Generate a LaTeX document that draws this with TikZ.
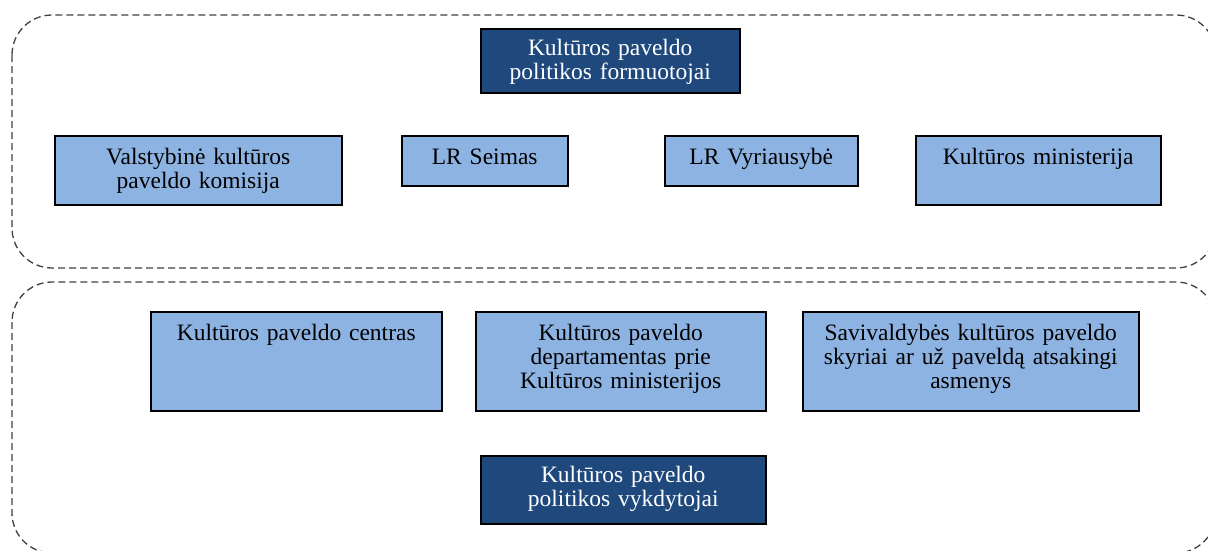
\documentclass[tikz,border=0pt]{standalone}
\usepackage{fontspec}
\setmainfont{Liberation Serif}
\definecolor{lightbox}{HTML}{8DB3E2}
\definecolor{darkbox}{HTML}{1F497D}
\tikzset{
	group/.style={draw=black!75, dash pattern=on 7pt off 4pt, line width=1.3pt, rounded corners=40pt},
	box/.style={draw, line width=1.5pt, fill=lightbox, anchor=north west, align=center, inner xsep=0pt, inner ysep=0pt, text height=29pt, font=\fontsize{23.5}{24}\selectfont},
	head/.style={box, fill=darkbox, text=white, text height=27pt},
}

\begin{document}
\begin{tikzpicture}[x=1pt,y=-1pt]
		\useasboundingbox (0,0) rectangle (1208,550);
		\clip (0,0) rectangle (1208,550);
		% the two groups
		\draw[group] (12,15) rectangle (1216,268);
		\draw[group] (12,282) rectangle (1216,553);
		% policy makers
		\node at (480,28) [head, text width=259pt, text depth=37pt] (formuotojai) {Kultūros paveldo\\politikos formuotojai};
		\node at (54,135) [box, text width=287pt, text depth=40pt] (komisija) {Valstybinė kultūros\\paveldo komisija};
		\node at (401,135) [box, text width=166pt, text depth=21pt] (seimas) {LR Seimas};
		\node at (664,135) [box, text width=193pt, text depth=21pt] (vyriausybe) {LR Vyriausybė};
		\node at (915,135) [box, text width=245pt, text depth=40pt] (ministerija) {Kultūros ministerija};
		% policy implementers
		\node at (150,311) [box, text width=291pt, text depth=70pt] (centras) {Kultūros paveldo centras};
		\node at (475,311) [box, text width=290pt, text depth=70pt] (departamentas) {Kultūros paveldo\\departamentas prie\\Kultūros ministerijos};
		\node at (802,311) [box, text width=336pt, text depth=70pt] (skyriai) {Savivaldybės kultūros paveldo\\skyriai ar už paveldą atsakingi\\asmenys};
		\node at (480,455) [head, text width=285pt, text depth=41pt] (vykdytojai) {Kultūros paveldo\\politikos vykdytojai};
	\end{tikzpicture}
\end{document}
